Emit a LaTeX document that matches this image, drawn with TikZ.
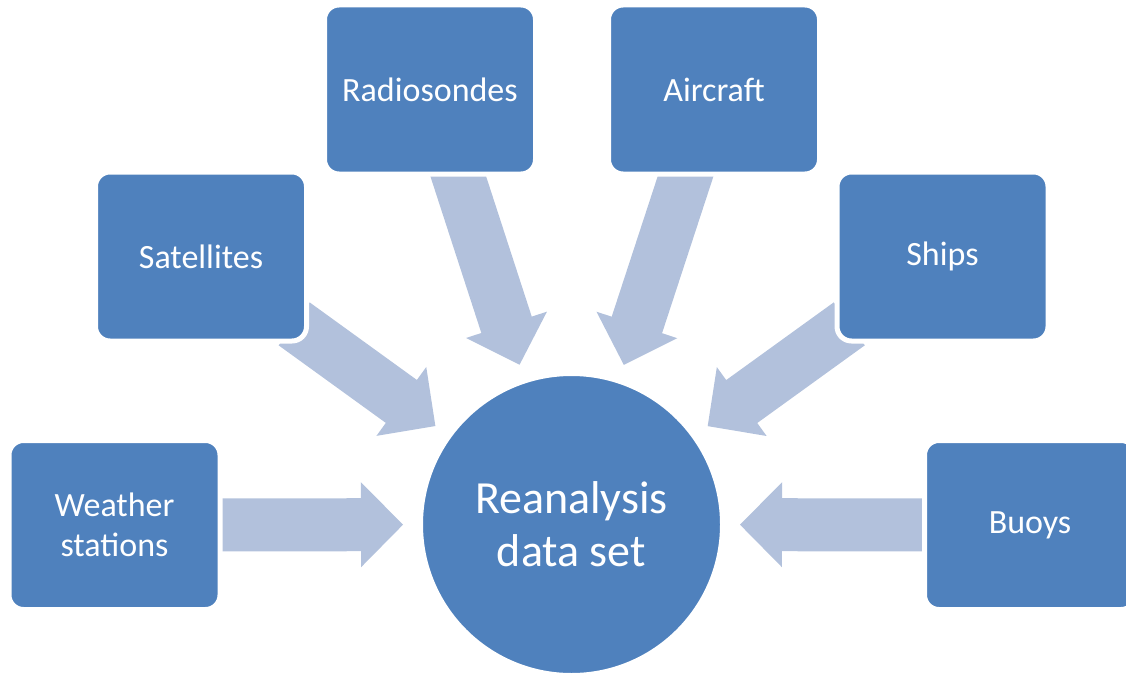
\documentclass[tikz,border=0pt]{standalone}
\usepackage{fontspec}
\setmainfont{Carlito}
\usetikzlibrary{calc}
\definecolor{boxblue}{HTML}{4F81BD}
\definecolor{arrowblue}{RGB}{178,193,220}
\pgfdeclarelayer{background}
\pgfsetlayers{background,main}
\tikzset{
  src/.style={fill=boxblue, draw=white, line width=5pt, rounded corners=14.5pt,
    minimum width=211pt, minimum height=169pt, inner sep=0pt,
    text=white, align=center, font=\fontsize{34}{40}\selectfont},
  hub/.style={circle, fill=boxblue, draw=white, line width=5pt,
    minimum size=302pt, inner sep=0pt,
    text=white, align=center, font=\fontsize{46}{53}\selectfont},
  blockfill/.style={fill=arrowblue, draw=none}
}
\newcommand\blockarrow[2]{%
  \coordinate (#1-b) at ($(#2)!42pt!(#1)$);
  \begin{pgfonlayer}{background}
  \path[blockfill] ($(#1)!26.5pt!90:(#2)$) -- ($(#1-b)!26.5pt!90:(#2)$)
    -- ($(#1-b)!42.5pt!90:(#2)$) -- (#2) -- ($(#1-b)!42.5pt!-90:(#2)$)
    -- ($(#1-b)!26.5pt!-90:(#2)$) -- ($(#1)!26.5pt!-90:(#2)$) -- cycle;
  \end{pgfonlayer}}
\begin{document}
\begin{tikzpicture}[x=1pt,y=-1pt]
\useasboundingbox (0,0) rectangle (1126,674);
\node[hub] (c) at (571.5,524.5) {Reanalysis\\data set};
\node[src] (ws) at (114.5,525) {Weather\\stations};
\node[src] (sat) at (201,256.5) {Satellites};
\node[src] (rad) at (430,89.5) {Radiosondes};
\node[src] (air) at (714,89.5) {Aircraft};
\node[src] (shp) at (942.5,256.5) {Ships};
\node[src] (buo) at (1030,525) {Buoys};
% arrow tails and tips
\coordinate (wsT) at ($(ws.center)!90pt!(c.center)$);
\coordinate (wsH) at ($(c.center)!168.5pt!(ws.center)$);
\coordinate (satT) at ($(sat.center)!115pt!(c.center)$);
\coordinate (satH) at ($(c.center)!168pt!(sat.center)$);
\coordinate (radT) at ($(rad.center)!70pt!(c.center)$);
\coordinate (radH) at ($(c.center)!168pt!(rad.center)$);
\coordinate (airT) at ($(air.center)!70pt!(c.center)$);
\coordinate (airH) at ($(c.center)!168pt!(air.center)$);
\coordinate (shpT) at ($(shp.center)!115pt!(c.center)$);
\coordinate (shpH) at ($(c.center)!168pt!(shp.center)$);
\coordinate (buoT) at ($(buo.center)!90pt!(c.center)$);
\coordinate (buoH) at ($(c.center)!168.5pt!(buo.center)$);
\blockarrow{wsT}{wsH}
\blockarrow{satT}{satH}
\blockarrow{radT}{radH}
\blockarrow{airT}{airH}
\blockarrow{shpT}{shpH}
\blockarrow{buoT}{buoH}
\end{tikzpicture}
\end{document}
